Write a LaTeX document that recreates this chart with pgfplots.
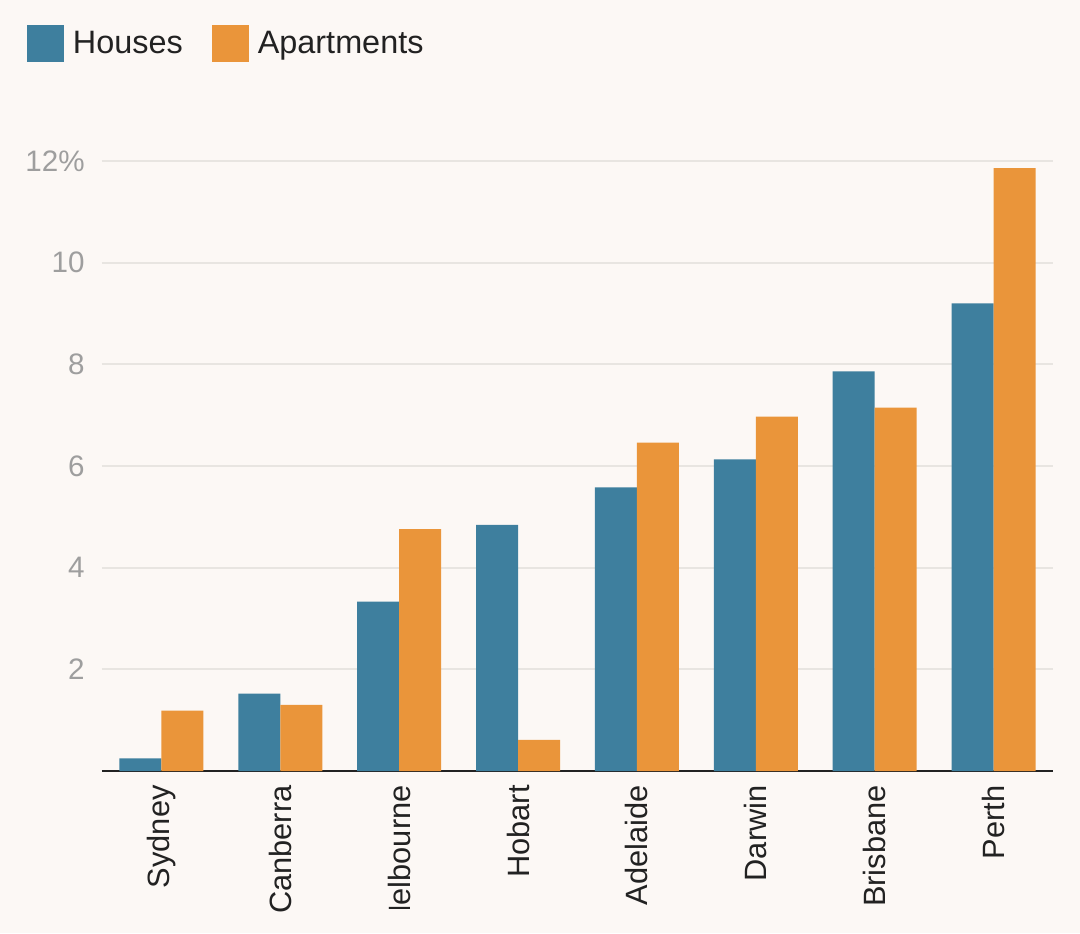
\documentclass[border=0pt]{standalone}
\usepackage{fontspec}
\setmainfont{Liberation Sans}
\usepackage{trimclip}
\usepackage{pgfplots}
\pgfplotsset{compat=1.18}
\definecolor{bg}{HTML}{FCF8F5}
\definecolor{houses}{HTML}{3E7F9E}
\definecolor{apts}{HTML}{EA953A}
\definecolor{gridc}{HTML}{E8E5E1}
\definecolor{tickc}{HTML}{9E9E9E}
\definecolor{txt}{HTML}{222222}
\begin{document}
\begin{tikzpicture}
\useasboundingbox (0,0) rectangle (540pt,466.5pt);
\fill[bg] (0,0) rectangle (540pt,466.5pt);
\begin{axis}[
  at={(51pt,81pt)}, anchor=south west,
  scale only axis, width=475.5pt, height=305pt,
  xmin=-0.5, xmax=7.5, ymin=0, ymax=12,
  ybar=0pt, bar width=21pt,
  axis x line*=bottom, axis y line*=left,
  x axis line style={draw=txt, line width=1.1pt},
  y axis line style={draw=none},
  major tick length=0pt,
  xtick={0,...,7},
  xticklabels={Sydney,Canberra,{\clipbox{0.73em 0pt 0pt 0pt}{Melbourne}},Hobart,Adelaide,Darwin,Brisbane,Perth},
  ytick={2,4,...,12},
  yticklabels={2,4,6,8,10,12\%},
  ymajorgrids,
  major grid style={draw=gridc, line width=1pt},
  xticklabel style={yshift=-7pt, rotate=90, anchor=east, inner sep=0pt, font=\fontsize{15.4}{18}\selectfont, text=txt},
  yticklabel style={anchor=east, inner sep=0pt, xshift=-8.5pt, font=\fontsize{14.8}{18}\selectfont, text=tickc},
  legend columns=2,
  legend image code/.code={\draw[#1,draw=none] (0pt,-9.25pt) rectangle (18.5pt,9.25pt);},
  legend style={at={(axis description cs:-0.0789,1.1926)}, anchor=west, draw=none, fill=none,
    inner sep=0pt, outer sep=0pt, nodes={inner sep=0pt},
    font=\fontsize{16.2}{18}\selectfont, text=txt,
    /tikz/every odd column/.append style={column sep=4.5pt},
    /tikz/every even column/.append style={column sep=14.5pt}},
]
\addplot[fill=houses, draw=none] coordinates {
  (0,0.25) (1,1.52) (2,3.33) (3,4.84) (4,5.58) (5,6.13) (6,7.86) (7,9.20)};
\addplot[fill=apts, draw=none] coordinates {
  (0,1.19) (1,1.30) (2,4.76) (3,0.61) (4,6.46) (5,6.97) (6,7.15) (7,11.86)};
\legend{Houses,Apartments}
\end{axis}
\end{tikzpicture}
\end{document}
